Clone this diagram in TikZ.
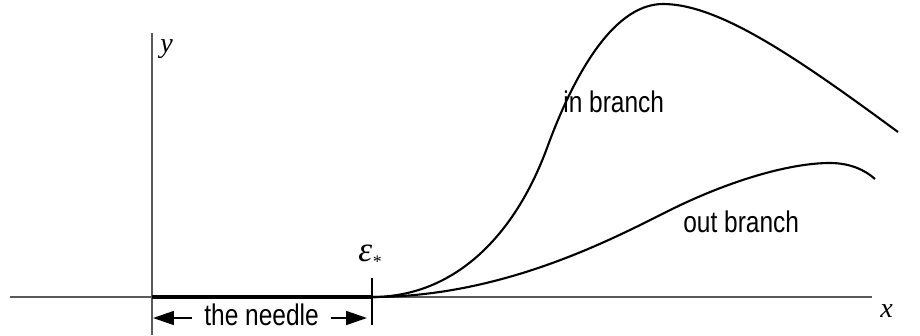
\documentclass[tikz,border=0pt]{standalone}
\usepackage{fontspec}
\setmainfont{Liberation Serif}
\setsansfont{Liberation Sans}
\newfontfamily\narrowsans[FakeStretch=0.82]{Liberation Sans}
\usetikzlibrary{positioning,arrows.meta}

\begin{document}
\begin{tikzpicture}[
  x=0.02cm, y=-0.02cm,
  axis/.style={draw=black!65, line width=0.6pt},
  branch/.style={line width=1.2pt},
  lbl/.style={font=\narrowsans\fontsize{17}{19}\selectfont, inner sep=0pt, anchor=base west},
  var/.style={font=\itshape\fontsize{16}{18}\selectfont, inner sep=0pt, anchor=base west},
  arw/.style={-{Triangle[length=4.2mm, width=2.8mm]}, line width=0.9pt}
]
\useasboundingbox (0,0) rectangle (920,335);
% axes
\coordinate (xl) at (10,297);
\coordinate (xr) at (872,297);
\coordinate (yb) at (152,335);
\coordinate (yt) at (152,33);
\draw[axis] (xl) -- (xr);
\draw[axis] (yb) -- (yt);
\node[var] (ylab) at (160,52) {y};
\node[var] (xlab) at (880,317) {x};
% the needle
\coordinate (o) at (152,297);
\coordinate (eps) at (372,297);
\draw[line width=1.8pt] (o) -- (eps);
\draw[line width=1.2pt] ([yshift=11]eps) -- ([yshift=-16]eps);
\node[font=\itshape\fontsize{20}{22}\selectfont, inner sep=0pt, anchor=base west]
  (epslab) at (358,261) {ε\raisebox{-0.4ex}{\fontsize{10}{10}\selectfont *}};
\node[lbl] (needle) at (204,325) {the needle};
\coordinate (nl) at (153,318);
\coordinate (nr) at (367,318);
\draw[arw] (192,318) -- (nl);
\draw[arw] (331,318) -- (nr);
% branches
\coordinate (inmid) at (547,148);
\coordinate (intop) at (663,4);
\coordinate (inend) at (898,132);
\draw[branch] (eps) .. controls (455,297) and (515,235) .. (inmid)
  .. controls (570,85) and (610,4) .. (intop)
  .. controls (720,4) and (800,60) .. (inend);
\coordinate (outmid) at (687,202);
\coordinate (outtop) at (830,163);
\coordinate (outend) at (875,179);
\draw[branch] (eps) .. controls (520,297) and (640,223) .. (outmid)
  .. controls (735,180) and (790,163) .. (outtop)
  .. controls (850,163) and (865,170) .. (outend);
\node[lbl] (inlab) at (563,112) {in branch};
\node[lbl] (outlab) at (683,232) {out branch};
\end{tikzpicture}
\end{document}
